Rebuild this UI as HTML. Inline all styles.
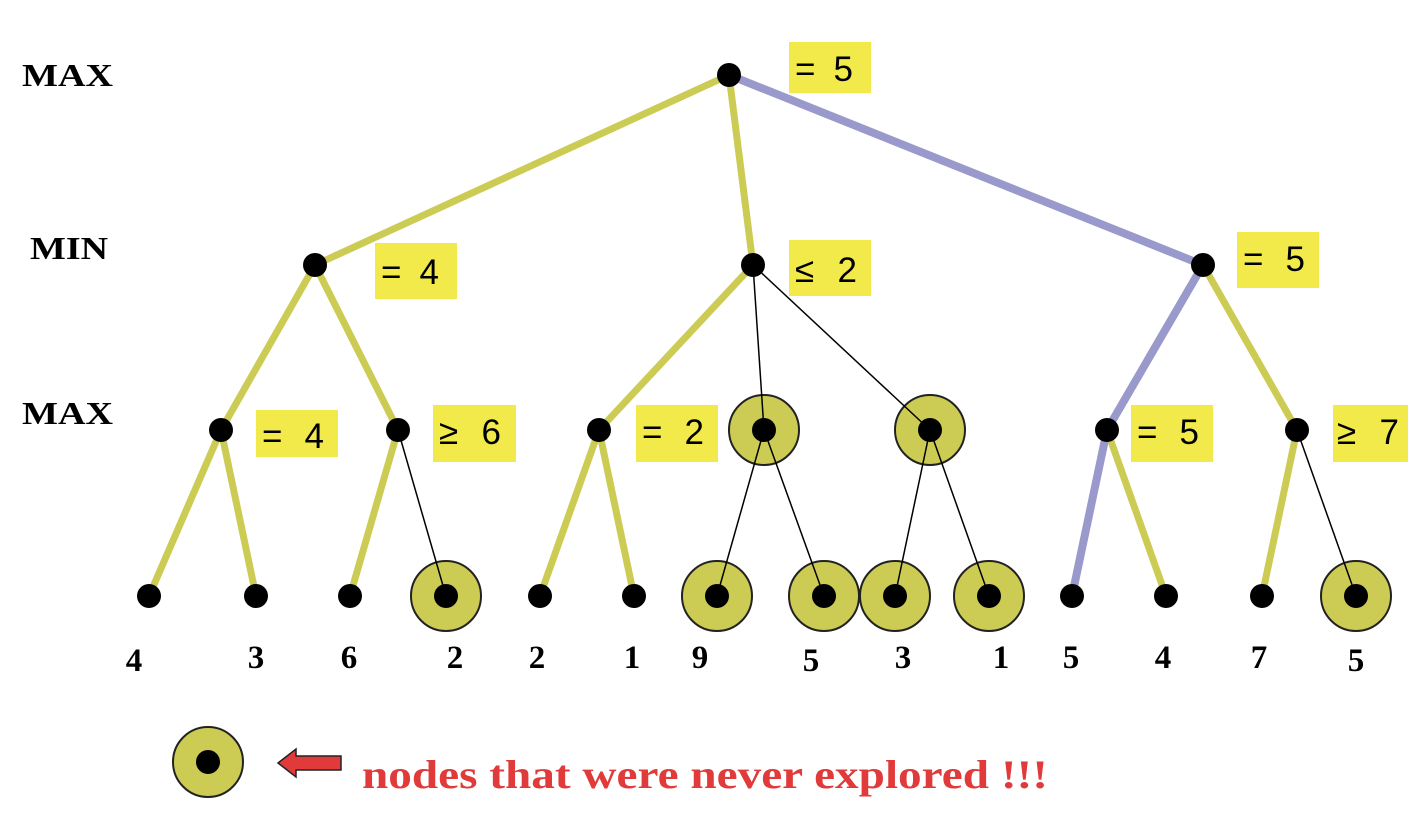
<!DOCTYPE html>
<html><head><style>body{margin:0;background:#fff}svg{display:block}</style></head><body>
<svg width="1422" height="816" viewBox="0 0 1422 816" xmlns="http://www.w3.org/2000/svg" font-family="Liberation Serif, serif">
<g stroke="#cccc55" stroke-width="7" stroke-linecap="round">
<line x1="729" y1="75" x2="315" y2="265"/><line x1="729" y1="75" x2="753" y2="265"/>
<line x1="315" y1="265" x2="221" y2="430"/><line x1="315" y1="265" x2="398" y2="430"/>
<line x1="753" y1="265" x2="599" y2="430"/><line x1="1203" y1="265" x2="1297" y2="430"/>
<line x1="221" y1="430" x2="149" y2="596"/><line x1="221" y1="430" x2="256" y2="596"/>
<line x1="398" y1="430" x2="350" y2="596"/>
<line x1="599" y1="430" x2="540" y2="596"/><line x1="599" y1="430" x2="634" y2="596"/>
<line x1="1107" y1="430" x2="1166" y2="596"/><line x1="1297" y1="430" x2="1262" y2="596"/>
</g>
<g stroke="#9999cc" stroke-width="8" stroke-linecap="round">
<line x1="729" y1="75" x2="1203" y2="265"/><line x1="1203" y1="265" x2="1107" y2="430"/><line x1="1107" y1="430" x2="1072" y2="596"/>
</g>
<g fill="#cccc55" stroke="#222" stroke-width="2">
<circle cx="764" cy="430" r="35"/><circle cx="930" cy="430" r="35"/>
<circle cx="446" cy="596" r="35"/><circle cx="717" cy="596" r="35"/><circle cx="824" cy="596" r="35"/><circle cx="895" cy="596" r="35"/><circle cx="989" cy="596" r="35"/><circle cx="1356" cy="596" r="35"/>
<circle cx="208" cy="762" r="35"/>
</g>
<g stroke="#000" stroke-width="1.5">
<line x1="753" y1="265" x2="764" y2="430"/><line x1="753" y1="265" x2="930" y2="430"/>
<line x1="398" y1="430" x2="446" y2="596"/>
<line x1="764" y1="430" x2="717" y2="596"/><line x1="764" y1="430" x2="824" y2="596"/>
<line x1="930" y1="430" x2="895" y2="596"/><line x1="930" y1="430" x2="989" y2="596"/>
<line x1="1297" y1="430" x2="1356" y2="596"/>
</g>
<g fill="#000">
<circle cx="729" cy="75" r="12"/>
<circle cx="315" cy="265" r="12"/><circle cx="753" cy="265" r="12"/><circle cx="1203" cy="265" r="12"/>
<circle cx="221" cy="430" r="12"/><circle cx="398" cy="430" r="12"/><circle cx="599" cy="430" r="12"/><circle cx="764" cy="430" r="12"/><circle cx="930" cy="430" r="12"/><circle cx="1107" cy="430" r="12"/><circle cx="1297" cy="430" r="12"/>
<circle cx="149" cy="596" r="12"/><circle cx="256" cy="596" r="12"/><circle cx="350" cy="596" r="12"/><circle cx="446" cy="596" r="12"/><circle cx="540" cy="596" r="12"/><circle cx="634" cy="596" r="12"/><circle cx="717" cy="596" r="12"/><circle cx="824" cy="596" r="12"/><circle cx="895" cy="596" r="12"/><circle cx="989" cy="596" r="12"/><circle cx="1072" cy="596" r="12"/><circle cx="1166" cy="596" r="12"/><circle cx="1262" cy="596" r="12"/><circle cx="1356" cy="596" r="12"/>
<circle cx="208" cy="762" r="12"/>
</g>
<g fill="#f2ea4a">
<rect x="789" y="42" width="82" height="51"/><rect x="375" y="243" width="82" height="56"/><rect x="789" y="240" width="82" height="56"/><rect x="1237" y="232" width="82" height="56"/>
<rect x="256" y="410" width="82" height="47"/><rect x="433" y="405" width="83" height="57"/><rect x="636" y="405" width="82" height="57"/><rect x="1131" y="405" width="82" height="57"/><rect x="1333" y="405" width="75" height="57"/>
</g>
<g font-family="Liberation Sans, sans-serif" font-size="35" fill="#000">
<text x="795" y="81" textLength="58">= 5</text><text x="381" y="284" textLength="58">= 4</text><text x="795" y="282" textLength="62">≤ 2</text><text x="1243" y="271" textLength="62">= 5</text>
<text x="262" y="448" textLength="62">= 4</text><text x="439" y="444" textLength="62">≥ 6</text><text x="642" y="444" textLength="62">= 2</text><text x="1137" y="444" textLength="62">= 5</text><text x="1337" y="444" textLength="62">≥ 7</text>
</g>
<g font-weight="bold" font-size="32" fill="#000">
<text x="22" y="86" textLength="91" lengthAdjust="spacingAndGlyphs">MAX</text><text x="30" y="259" textLength="78" lengthAdjust="spacingAndGlyphs">MIN</text><text x="22" y="424" textLength="91" lengthAdjust="spacingAndGlyphs">MAX</text>
</g>
<g font-weight="bold" font-size="33" fill="#000" text-anchor="middle">
<text x="134" y="671">4</text><text x="256" y="668">3</text><text x="349" y="668">6</text><text x="455" y="668">2</text><text x="537" y="668">2</text><text x="632" y="668">1</text><text x="700" y="668">9</text><text x="811" y="671">5</text><text x="903" y="668">3</text><text x="1001" y="668">1</text><text x="1071" y="668">5</text><text x="1163" y="668">4</text><text x="1259" y="668">7</text><text x="1356" y="671">5</text>
</g>
<polygon points="278,763 296,749 296,756 341,756 341,770 296,770 296,777" fill="#e03a3a" stroke="#222" stroke-width="1.5"/>
<text x="362" y="788" font-weight="bold" font-size="40" fill="#e03a3a" textLength="686" lengthAdjust="spacingAndGlyphs">nodes that were never explored !!!</text>
</svg>
</body></html>
